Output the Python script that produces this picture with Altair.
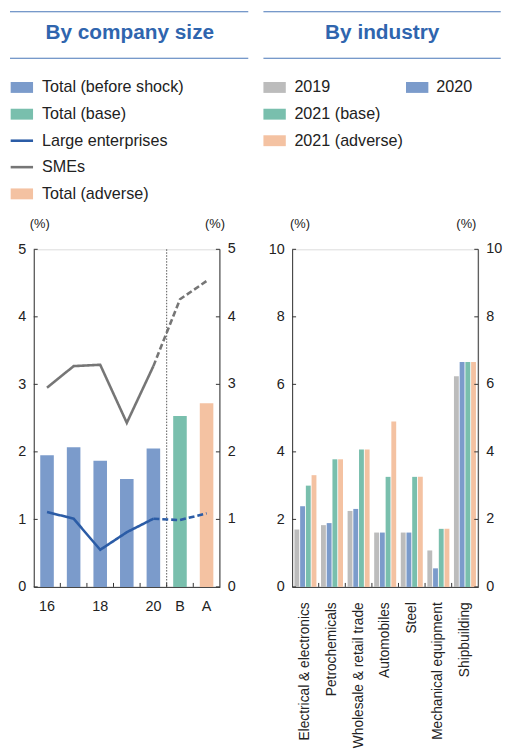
import altair as alt
import pandas as pd

# ---------------- data ----------------
years = ["16", "17", "18", "19", "20", "B", "A"]
total_vals = [1.95, 2.07, 1.87, 1.60, 2.05, 2.53, 2.72]
total_kind = ["Total (before shock)"] * 5 + ["Total (base)", "Total (adverse)"]

actual_years = ["16", "17", "18", "19", "20"]
proj_years = ["20", "B", "A"]
large_actual = [1.11, 1.01, 0.55, 0.81, 1.01]
large_proj = [1.01, 0.99, 1.09]
sme_actual = [2.95, 3.27, 3.29, 2.43, 3.27]
sme_proj = [3.27, 4.26, 4.53]

industries = ["Electrical & electronics", "Petrochemicals", "Wholesale & retail trade",
              "Automobiles", "Steel", "Mechanical equipment", "Shipbuilding"]
series_names = ["2019", "2020", "2021 (base)", "2021 (adverse)"]
ind_2019 = [1.70, 1.83, 2.25, 1.61, 1.61, 1.08, 6.24]
ind_2020 = [2.39, 1.89, 2.31, 1.61, 1.61, 0.55, 6.66]
ind_2021_base = [3.00, 3.78, 4.07, 3.26, 3.26, 1.72, 6.66]
ind_2021_adverse = [3.31, 3.78, 4.07, 4.90, 3.26, 1.72, 6.66]

left_title = "By company size"
right_title = "By industry"
left_legend = ["Total (before shock)", "Total (base)", "Large enterprises", "SMEs", "Total (adverse)"]
right_legend = ["2019", "2020", "2021 (base)", "2021 (adverse)"]
left_ticks = [0, 1, 2, 3, 4, 5]
right_ticks = [0, 2, 4, 6, 8, 10]
unit_label = "(%)"

# ---------------- style ----------------
W, H = 188, 341
FONT = "Liberation Sans"
BLUE_BAR = "#7b9bcb"
TEAL = "#79bfad"
PEACH = "#f4c2a2"
GRAY_BAR = "#bcbcbc"
LINE_BLUE = "#2b5ca6"
LINE_GRAY = "#767676"
TITLE_BLUE = "#2f65ae"
RULE_BLUE = "#4a77b8"
AX = "#333333"
TXT = "#222222"
TICK_FS = 14.5

one = pd.DataFrame({"a": [0]})


def txt(label, x, y, size=16.3, color=TXT, align="left", baseline="middle", weight="normal"):
    return alt.Chart(one).mark_text(text=label, fontSize=size, color=color, align=align,
                                    baseline=baseline, fontWeight=weight, font=FONT).encode(
        x=alt.value(x), y=alt.value(y))


def hrule(x1, x2, y, color=RULE_BLUE, width=1.2):
    return alt.Chart(one).mark_rule(color=color, strokeWidth=width, strokeCap="butt").encode(
        x=alt.value(x1), x2=alt.value(x2), y=alt.value(y))


def vrule(x, color=AX, width=1):
    return alt.Chart(one).mark_rule(color=color, strokeWidth=width, strokeCap="butt").encode(
        x=alt.value(x), y=alt.value(0), y2=alt.value(H))


def swatch(x, y, color):
    return alt.Chart(one).mark_rect(color=color).encode(
        x=alt.value(x), x2=alt.value(x + 22.6), y=alt.value(y - 5.5), y2=alt.value(y + 5.5))


def make_yaxis(vals):
    return alt.Axis(orient="left", title=None, ticks=False, tickSize=0, labelPadding=8, values=vals,
                    labelFontSize=TICK_FS, labelColor=TXT, domainColor=AX, grid=False, labelFont=FONT)


def ytick_layers(vals, yscale, yaxis):
    df = pd.DataFrame({"v": vals})
    left = alt.Chart(df).mark_rule(color=AX, strokeWidth=1).encode(
        x=alt.value(0), x2=alt.value(4), y=alt.Y("v:Q", scale=yscale, axis=yaxis))
    right = alt.Chart(df).mark_rule(color=AX, strokeWidth=1).encode(
        x=alt.value(W - 4), x2=alt.value(W), y=alt.Y("v:Q", scale=yscale, axis=yaxis))
    right_lab = alt.Chart(df).mark_text(align="left", baseline="middle", fontSize=TICK_FS,
                                        color=TXT, font=FONT).encode(
        x=alt.value(W + 8), y=alt.Y("v:Q", scale=yscale, axis=yaxis), text=alt.Text("v:Q"))
    return [left, right, right_lab, vrule(W)]


rows = [-163.5, -136.5, -109.7, -83.0, -56.0]

# ---------------- left panel ----------------
xscale_l = alt.Scale(type="band", domain=years, paddingInner=0, paddingOuter=0)
yscale_l = alt.Scale(domain=[0, 5], nice=False)
yaxis_l = make_yaxis(left_ticks)
xaxis_l = alt.Axis(title=None, ticks=False, tickSize=0, labelAngle=0, labelPadding=13,
                   labelFontSize=TICK_FS, labelColor=TXT, domainColor=AX, labelFont=FONT,
                   labelExpr="datum.label == '17' || datum.label == '19' ? '' : datum.label")

df_total = pd.DataFrame({"year": years, "value": total_vals, "kind": total_kind})
bars_l = alt.Chart(df_total).mark_bar(width=alt.RelativeBandSize(0.51)).encode(
    x=alt.X("year:N", sort=years, scale=xscale_l, axis=xaxis_l),
    y=alt.Y("value:Q", scale=yscale_l, axis=yaxis_l),
    color=alt.Color("kind:N", scale=alt.Scale(domain=["Total (before shock)", "Total (base)", "Total (adverse)"],
                                              range=[BLUE_BAR, TEAL, PEACH]), legend=None),
)

sep = alt.Chart(pd.DataFrame({"year": ["B"]})).mark_rule(color="#555555", strokeWidth=1, strokeDash=[1.5, 1.5]).encode(
    x=alt.X("year:N", sort=years, scale=xscale_l, axis=xaxis_l, bandPosition=0),
    y=alt.value(0), y2=alt.value(H))

dash_scale = alt.Scale(domain=["actual", "proj"], range=[[1, 0], [6, 3]])


def line_layer(actual, proj, color):
    df = pd.DataFrame({
        "year": actual_years + proj_years,
        "value": actual + proj,
        "seg": ["actual"] * len(actual_years) + ["proj"] * len(proj_years),
    })
    return alt.Chart(df).mark_line(color=color, strokeWidth=2.6, strokeCap="butt").encode(
        x=alt.X("year:N", sort=years, scale=xscale_l, axis=xaxis_l),
        y=alt.Y("value:Q", scale=yscale_l, axis=yaxis_l),
        strokeDash=alt.StrokeDash("seg:N", scale=dash_scale, legend=None),
    )


le_line = line_layer(large_actual, large_proj, LINE_BLUE)
sme_line = line_layer(sme_actual, sme_proj, LINE_GRAY)

xt_l = alt.Chart(pd.DataFrame({"year": years[1:]})).mark_rule(color=AX, strokeWidth=1).encode(
    x=alt.X("year:N", sort=years, scale=xscale_l, axis=xaxis_l, bandPosition=0),
    y=alt.value(H - 4), y2=alt.value(H))

deco_l = [
    hrule(-24, 216.7, -240),
    txt(left_title, 97, -212.3, size=21, color=TITLE_BLUE, align="center", baseline="alphabetic", weight="bold"),
    hrule(-24, 216.7, -193),
    swatch(-23.3, rows[0], BLUE_BAR), txt(left_legend[0], 8.3, rows[0]),
    swatch(-23.3, rows[1], TEAL), txt(left_legend[1], 8.3, rows[1]),
    hrule(-23.3, -0.7, rows[2], color=LINE_BLUE, width=2.6), txt(left_legend[2], 8.3, rows[2]),
    hrule(-23.3, -0.7, rows[3], color=LINE_GRAY, width=2.6), txt(left_legend[3], 8.3, rows[3]),
    swatch(-23.3, rows[4], PEACH), txt(left_legend[4], 8.3, rows[4]),
    txt(unit_label, 6, -26, size=13, align="center"),
    txt(unit_label, 183, -26, size=13, align="center"),
]

left = alt.layer(bars_l, sep, le_line, sme_line, *ytick_layers(left_ticks, yscale_l, yaxis_l),
                 xt_l, *deco_l).properties(width=W, height=H)

# ---------------- right panel ----------------
xscale_r = alt.Scale(type="band", domain=industries, paddingInner=0, paddingOuter=0)
yscale_r = alt.Scale(domain=[0, 10], nice=False)
yaxis_r = make_yaxis(right_ticks)
xaxis_r = alt.Axis(title=None, ticks=False, tickSize=0, labelAngle=270, labelAlign="right",
                   labelBaseline="middle", labelPadding=15, labelFontSize=13.9, labelColor=TXT,
                   domainColor=AX, labelLimit=0, labelFont=FONT)

rows_r = []
for s, vals in zip(series_names, [ind_2019, ind_2020, ind_2021_base, ind_2021_adverse]):
    for ind, v in zip(industries, vals):
        rows_r.append({"industry": ind, "series": s, "value": v})
df_ind = pd.DataFrame(rows_r)

bars_r = alt.Chart(df_ind).mark_bar().encode(
    x=alt.X("industry:N", sort=industries, scale=xscale_r, axis=xaxis_r),
    xOffset=alt.XOffset("series:N", sort=series_names,
                        scale=alt.Scale(domain=series_names, paddingInner=0.15, paddingOuter=0.4)),
    y=alt.Y("value:Q", scale=yscale_r, axis=yaxis_r),
    color=alt.Color("series:N", scale=alt.Scale(domain=series_names,
                                                range=[GRAY_BAR, BLUE_BAR, TEAL, PEACH]), legend=None),
)

xt_r = alt.Chart(pd.DataFrame({"industry": industries[1:]})).mark_rule(color=AX, strokeWidth=1).encode(
    x=alt.X("industry:N", sort=industries, scale=xscale_r, axis=xaxis_r, bandPosition=0),
    y=alt.value(H - 4), y2=alt.value(H))

deco_r = [
    hrule(-29, 210.7, -240),
    txt(right_title, 91, -212.3, size=21, color=TITLE_BLUE, align="center", baseline="alphabetic", weight="bold"),
    hrule(-29, 210.7, -193),
    swatch(-29, rows[0], GRAY_BAR), txt(right_legend[0], 2.3, rows[0]),
    swatch(115, rows[0], BLUE_BAR), txt(right_legend[1], 145.7, rows[0]),
    swatch(-29, rows[1], TEAL), txt(right_legend[2], 2.3, rows[1]),
    swatch(-29, rows[2], PEACH), txt(right_legend[3], 2.3, rows[2]),
    txt(unit_label, 8, -26, size=13, align="center"),
    txt(unit_label, 176, -26, size=13, align="center"),
]

right = alt.layer(bars_r, *ytick_layers(right_ticks, yscale_r, yaxis_r), xt_r,
                  *deco_r).properties(width=W, height=H)

chart = alt.hconcat(left, right, spacing=73, bounds="flush").resolve_scale(
    color="independent"
).properties(
    padding={"top": -2, "left": 0, "right": 0, "bottom": 0},
    autosize=alt.AutoSizeParams(type="pad"),
).configure_view(stroke=None).configure(font=FONT)

chart.save("out.html", embed_options={"renderer": "svg", "actions": False})
